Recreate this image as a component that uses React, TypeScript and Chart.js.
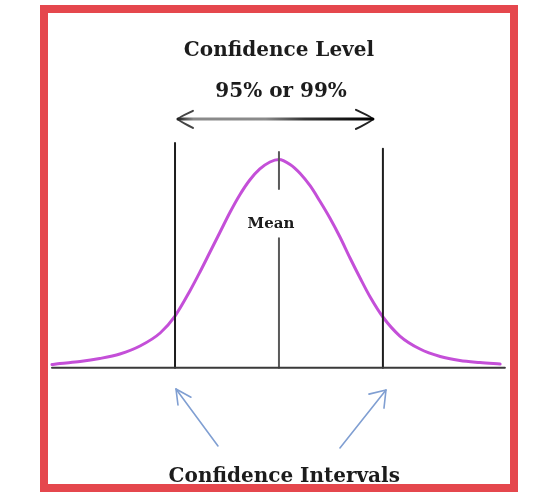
import React, { useEffect, useRef } from 'react';
import { Chart, registerables } from 'chart.js';

Chart.register(...registerables);

// ---- data (x in standard deviations from the mean, y in density units) ----
const curveZ = [-4.28, -4.13, -3.75, -3.38, -3.0, -2.62, -2.24, -1.96, -1.68, -1.49, -1.3, -1.11, -0.92, -0.74, -0.55, -0.36, -0.17, 0, 0.21, 0.4, 0.59, 0.77, 0.96, 1.15, 1.34, 1.53, 1.72, 1.96, 2.28, 2.66, 3.04, 3.41, 3.79, 4.17];
const curveDensity = [0.0062, 0.0081, 0.012, 0.0178, 0.0265, 0.0419, 0.067, 0.0998, 0.1481, 0.1848, 0.2234, 0.262, 0.3006, 0.3335, 0.3624, 0.3837, 0.3972, 0.402, 0.3924, 0.375, 0.3509, 0.3219, 0.2891, 0.2524, 0.2118, 0.1732, 0.1365, 0.0979, 0.0612, 0.0361, 0.0216, 0.0139, 0.01, 0.0071];

const axisExtent = [-4.28, 4.26];
const ciBounds = [-1.96, 1.96];
const ciTops = [0.434, 0.423];
const meanZ = 0;
const meanSegments = [[0.4165, 0.345], [0.25, 0]];

const levelArrowZ = [-1.905, 1.772];
const levelArrowY = 0.48;
const levelHeadBackZ = [-1.622, 1.452];
const levelHeadSpread = [[0.496, 0.463], [0.498, 0.461]];

const ciArrowTail = [[-1.15, -0.151], [1.15, -0.155]];
const ciArrowTip = [[-1.942, -0.041], [2.018, -0.043]];
const ciArrowHeadA = [[-1.904, -0.072], [1.697, -0.051]];
const ciArrowHeadB = [[-1.659, -0.057], [1.98, -0.078]];

const titleTexts = ['Confidence Level', '95% or 99%'];
const meanText = 'Mean';
const footerText = 'Confidence Intervals';

const X_MIN = -5.26;
const X_MAX = 4.79;
const Y_MIN = -0.24;
const Y_MAX = 0.71;

const pt = (x: number, y: number) => ({ x, y });

const textPlugin = {
  id: 'diagramText',
  afterDatasetsDraw(chart: any) {
    const { ctx, scales } = chart;
    const xs = scales.x;
    const ys = scales.y;
    const draw = (t: string, z: number, v: number, size: number) => {
      ctx.save();
      ctx.font = `bold ${size}px 'DejaVu Serif', serif`;
      ctx.fillStyle = '#1c1c1c';
      ctx.textAlign = 'center';
      ctx.textBaseline = 'alphabetic';
      ctx.fillText(t, xs.getPixelForValue(z), ys.getPixelForValue(v));
      ctx.restore();
    };
    draw(titleTexts[0], 0.0, 0.601, 20);
    draw(titleTexts[1], 0.04, 0.523, 20);
    draw(meanText, -0.15, 0.27, 15);
    draw(footerText, 0.1, -0.22, 20);
  },
};

export default function App() {
  const ref = useRef<HTMLCanvasElement | null>(null);

  useEffect(() => {
    if (!ref.current) return;
    const black = '#1e1e1e';
    const blue = '#809fd2';
    const line = (data: any[], color: any, width: number, extra: any = {}) => ({
      data,
      borderColor: color,
      borderWidth: width,
      pointRadius: 0,
      fill: false,
      tension: 0,
      ...extra,
    });

    const datasets: any[] = [];
    // baseline axis
    datasets.push(line([pt(axisExtent[0], 0), pt(axisExtent[1], 0)], '#3a3a3a', 2));
    // confidence interval bounds
    ciBounds.forEach((z, i) => datasets.push(line([pt(z, 0), pt(z, ciTops[i])], black, 2)));
    // mean line
    meanSegments.forEach((s) => datasets.push(line([pt(meanZ, s[0]), pt(meanZ, s[1])], '#5a5a5a', 2)));
    // bell curve
    datasets.push(
      line(curveZ.map((z, i) => pt(z, curveDensity[i])), '#c44fd8', 3, { cubicInterpolationMode: 'monotone' })
    );
    // confidence level double arrow
    datasets.push(
      line([pt(levelArrowZ[0], levelArrowY), pt(levelArrowZ[1], levelArrowY)], (c: any) => {
        const chart = c.chart;
        if (!chart.chartArea) return '#000';
        const xs = chart.scales.x;
        const g = chart.ctx.createLinearGradient(xs.getPixelForValue(levelArrowZ[0]), 0, xs.getPixelForValue(levelArrowZ[1]), 0);
        g.addColorStop(0, '#222');
        g.addColorStop(0.08, '#8a8a8a');
        g.addColorStop(0.45, '#8a8a8a');
        g.addColorStop(0.65, '#333');
        g.addColorStop(1, '#000');
        return g;
      }, 3)
    );
    levelArrowZ.forEach((z, i) =>
      datasets.push(
        line(
          [pt(levelHeadBackZ[i], levelHeadSpread[i][0]), pt(z, levelArrowY), pt(levelHeadBackZ[i], levelHeadSpread[i][1])],
          i === 0 ? '#444' : '#222',
          2,
          { tension: 0.2 }
        )
      )
    );
    // blue pointer arrows
    ciArrowTail.forEach((tail, i) => {
      datasets.push(line([pt(tail[0], tail[1]), pt(ciArrowTip[i][0], ciArrowTip[i][1])], blue, 1.6));
      datasets.push(
        line(
          [pt(ciArrowHeadA[i][0], ciArrowHeadA[i][1]), pt(ciArrowTip[i][0], ciArrowTip[i][1]), pt(ciArrowHeadB[i][0], ciArrowHeadB[i][1])],
          blue,
          1.6
        )
      );
    });

    const chart = new Chart(ref.current, {
      type: 'line',
      data: { datasets },
      options: {
        animation: false,
        responsive: false,
        devicePixelRatio: 1,
        layout: { padding: 0 },
        scales: {
          x: { type: 'linear', min: X_MIN, max: X_MAX, display: false },
          y: { type: 'linear', min: Y_MIN, max: Y_MAX, display: false },
        },
        plugins: { legend: { display: false }, tooltip: { enabled: false } },
        elements: { line: { borderCapStyle: 'round', borderJoinStyle: 'round' } },
      },
      plugins: [textPlugin],
    });
    return () => chart.destroy();
  }, []);

  return (
    <div style={{ position: 'fixed', left: 0, top: 0, width: 533, height: 492, background: '#fff' }}>
      <canvas
        ref={ref}
        width={533}
        height={492}
        style={{ position: 'absolute', left: 0, top: 0, width: 533, height: 492 }}
      />
      <div
        style={{
          position: 'absolute',
          left: 40,
          top: 5,
          width: 478,
          height: 487,
          border: '8px solid #e5474d',
          boxSizing: 'border-box',
          pointerEvents: 'none',
        }}
      />
    </div>
  );
}
